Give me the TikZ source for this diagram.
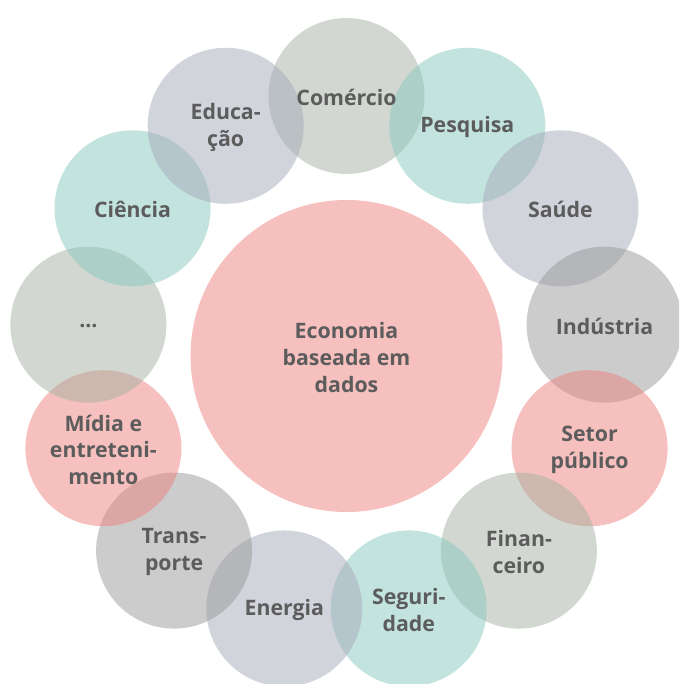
\documentclass[tikz,border=0pt]{standalone}
\usepackage{fontspec}
\setmainfont{Open Sans}
\definecolor{cpink}{RGB}{237,129,125}
\definecolor{cteal}{RGB}{135,201,189}
\definecolor{cblue}{RGB}{165,169,185}
\definecolor{cgray}{RGB}{153,153,153}
\definecolor{cgg}{RGB}{165,177,163}
\definecolor{centerpink}{RGB}{246,192,190}
\definecolor{txt}{RGB}{92,92,92}
\begin{document}
\begin{tikzpicture}[x=1pt,y=-1pt,
  bubble/.style={circle, minimum size=156pt, inner sep=0pt, fill opacity=0.5},
  lbl/.style={font=\fontsize{21.3}{26.7}\selectfont\bfseries, text=txt, align=center, inner sep=0pt, yshift=-1.5pt}]
\useasboundingbox (0,0) rectangle (679,684);
\clip (0,0) rectangle (679,684);
\node[circle, minimum size=312pt, inner sep=0pt, fill=centerpink] (hub) at (346.5,356) {};
\foreach \i/\c in {0/cgg,1/cteal,2/cblue,3/cgray,4/cpink,5/cgg,6/cteal,7/cblue,8/cgray,9/cpink,10/cgg,11/cteal,12/cblue}{
  \node[bubble, fill=\c] (c\i) at ({346.5+260*cos(90-\i*360/13)},{356-260*sin(90-\i*360/13)}) {};
}
\node[lbl] (hubt) at (hub.center) {Economia\\baseada em\\dados};
\node[lbl] (t0) at (c0.center) {Comércio};
\node[lbl] (t1) at (c1.center) {Pesquisa};
\node[lbl] (t2) at (c2.center) {Saúde};
\node[lbl] (t3) at (c3.center) {Indústria};
\node[lbl] (t4) at (c4.center) {Setor\\público};
\node[lbl] (t5) at (c5.center) {Finan-\\ceiro};
\node[lbl] (t6) at (c6.center) {Seguri-\\dade};
\node[lbl] (t7) at (c7.center) {Energia};
\node[lbl] (t8) at (c8.center) {Trans-\\porte};
\node[lbl] (t9) at (c9.center) {Mídia e\\entreteni-\\mento};
\node[lbl] (t10) at (c10.center) {...};
\node[lbl] (t11) at (c11.center) {Ciência};
\node[lbl] (t12) at (c12.center) {Educa-\\ção};
\end{tikzpicture}
\end{document}
